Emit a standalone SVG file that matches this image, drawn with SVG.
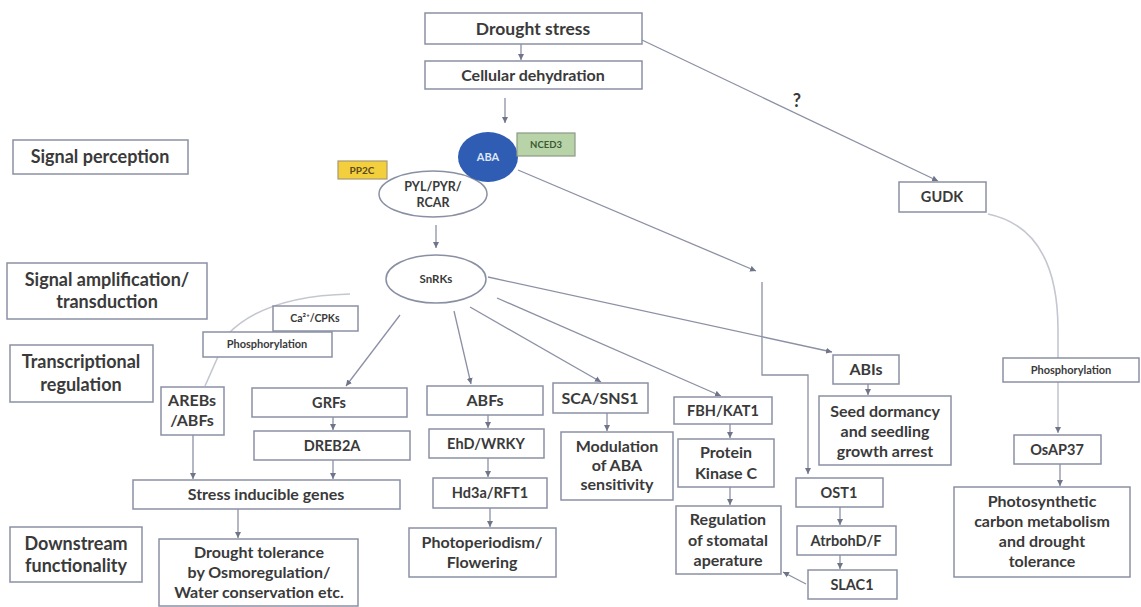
<svg xmlns="http://www.w3.org/2000/svg" width="1141" height="607" viewBox="0 0 1141 607">
<defs>
<marker id="ah" markerUnits="userSpaceOnUse" markerWidth="7" markerHeight="7" refX="6" refY="3.5" orient="auto">
<path d="M0,0.5 L6,3.5 L0,6.5 z" fill="#6f7488"/>
</marker>
<style>
.box{fill:#ffffff;stroke:#8a90a4;stroke-width:1.5}
.t{font-family:Lato,"Liberation Sans",sans-serif;font-weight:bold;fill:#3a3a3a;text-anchor:middle}
.lg{font-size:18px}
.md{font-size:16px}
.sm{font-size:14.5px}
.xs{font-size:11px}
.c{fill:none;stroke:#8c90a4;stroke-width:1.3}
.cl{fill:none;stroke:#c4c7d0;stroke-width:1.6}
.a{marker-end:url(#ah)}
</style>
</defs>
<rect width="1141" height="607" fill="#ffffff"/>

<g id="connectors">
<path class="c a" d="M521 44 L521 60"/>
<path class="c a" d="M505 98 L505 123"/>
<path class="c a" d="M436 225 L436 248"/>
<path class="c a" d="M518 170 L756 271"/>
<path class="c a" d="M762 282 L762 375 L808 375 L808 474"/>
<path class="c a" d="M642 40 L938 181"/>
<path class="c a" d="M488 277 L832 352"/>
<path class="c a" d="M497 298 L721 396"/>
<path class="c a" d="M470 307 L601 382"/>
<path class="c a" d="M454 311 L471 384"/>
<path class="c a" d="M400 315 L346 386"/>
<path class="cl" d="M350 294 Q265 296 228 334 L205 386"/>
<path class="c a" d="M333 417 L333 430"/>
<path class="c a" d="M193 435 L193 479"/>
<path class="c a" d="M333 460 L333 479"/>
<path class="c a" d="M238 509 L238 538"/>
<path class="c a" d="M488 415 L488 428"/>
<path class="c a" d="M488 458 L488 477"/>
<path class="c a" d="M490 508 L490 527"/>
<path class="c a" d="M607 413 L607 431"/>
<path class="c a" d="M730 424 L730 438"/>
<path class="c a" d="M730 487 L730 505"/>
<path class="c a" d="M868 384 L868 395"/>
<path class="c a" d="M840 507 L840 525"/>
<path class="c a" d="M840 555 L840 569"/>
<path class="c a" d="M806 584 L783 572"/>
<path class="cl a" d="M988 214 C1040 225 1058 270 1058 330 L1058 433"/>
<path class="c a" d="M1060 464 L1060 486"/>
</g>

<g id="drought"><rect class="box" x="425" y="13" width="217" height="31"/><text class="t" style="font-size:17.5px" x="533" y="35">Drought stress</text></g>
<g id="cellular"><rect class="box" x="425" y="61" width="217" height="28"/><text class="t md" x="533" y="81">Cellular dehydration</text></g>
<text id="question" class="t" style="font-size:18px" x="797" y="107">?</text>

<g id="sig-perception"><rect class="box" x="13" y="140" width="175" height="34"/><text class="t lg" x="100" y="163">Signal perception</text></g>
<g id="sig-amp"><rect class="box" x="7" y="263" width="200" height="56"/><text class="t lg" x="107" y="286">Signal amplification/</text><text class="t lg" x="107" y="308">transduction</text></g>
<g id="transcr"><rect class="box" x="10" y="345" width="143" height="57"/><text class="t lg" x="81" y="368">Transcriptional</text><text class="t lg" x="81" y="391">regulation</text></g>
<g id="downstream"><rect class="box" x="10" y="527" width="132" height="55"/><text class="t lg" x="76" y="550">Downstream</text><text class="t lg" x="76" y="572">functionality</text></g>

<g id="pyl"><ellipse cx="433" cy="194" rx="54" ry="23" fill="#ffffff" stroke="#8a90a4" stroke-width="1.5"/><text class="t" style="font-size:12.5px" x="433" y="191">PYL/PYR/</text><text class="t" style="font-size:12.5px" x="433" y="207">RCAR</text></g>
<g id="aba"><ellipse cx="488" cy="157" rx="30" ry="25" fill="#2e5db3"/><text class="t" style="font-size:11px;fill:#dfe6f5" x="488" y="161">ABA</text></g>
<g id="nced3"><rect x="517" y="133" width="58" height="23" fill="#b7d3a7" stroke="#8c9a88" stroke-width="1.2"/><text class="t" style="font-size:9.5px;fill:#3c5a34" x="546" y="148">NCED3</text></g>
<g id="pp2c"><rect x="338" y="161" width="49" height="18" fill="#f3cf3e" stroke="#a89a70" stroke-width="1.2"/><text class="t" style="font-size:10px;fill:#5a4a20" x="362" y="174">PP2C</text></g>
<g id="snrks"><ellipse cx="436" cy="279" rx="50" ry="24" fill="#ffffff" stroke="#8a90a4" stroke-width="1.5"/><text class="t" style="font-size:11.5px" x="436" y="283">SnRKs</text></g>

<g id="ca"><rect class="box" x="273" y="306" width="85" height="25"/><text class="t" style="font-size:10.5px" x="315" y="322">Ca²⁺/CPKs</text></g>
<g id="phos-left"><rect class="box" x="203" y="332" width="129" height="25"/><text class="t xs" x="267" y="348">Phosphorylation</text></g>

<g id="arebs"><rect class="box" x="161" y="387" width="63" height="48"/><text class="t md" x="192" y="406">AREBs</text><text class="t md" x="192" y="426">/ABFs</text></g>
<g id="grfs"><rect class="box" x="252" y="388" width="155" height="29"/><text class="t sm" x="329" y="408">GRFs</text></g>
<g id="dreb2a"><rect class="box" x="254" y="431" width="156" height="29"/><text class="t sm" x="332" y="451">DREB2A</text></g>
<g id="stress-genes"><rect class="box" x="133" y="480" width="267" height="29"/><text class="t md" x="266" y="500">Stress inducible genes</text></g>
<g id="drought-tol"><rect class="box" x="159" y="539" width="199" height="67"/><text class="t md" x="259" y="558">Drought tolerance</text><text class="t md" x="259" y="578">by Osmoregulation/</text><text class="t md" x="259" y="598">Water conservation etc.</text></g>

<g id="abfs"><rect class="box" x="427" y="386" width="116" height="29"/><text class="t md" x="485" y="406">ABFs</text></g>
<g id="ehd"><rect class="box" x="429" y="429" width="115" height="29"/><text class="t sm" x="486" y="449">EhD/WRKY</text></g>
<g id="hd3a"><rect class="box" x="433" y="478" width="114" height="30"/><text class="t sm" x="490" y="498">Hd3a/RFT1</text></g>
<g id="photoperiod"><rect class="box" x="409" y="528" width="147" height="49"/><text class="t md" x="482" y="548">Photoperiodism/</text><text class="t md" x="482" y="568">Flowering</text></g>

<g id="sca"><rect class="box" x="553" y="383" width="95" height="30"/><text class="t md" x="600" y="404">SCA/SNS1</text></g>
<g id="modulation"><rect class="box" x="561" y="432" width="112" height="68"/><text class="t md" x="617" y="452">Modulation</text><text class="t md" x="617" y="471">of ABA</text><text class="t md" x="617" y="490">sensitivity</text></g>

<g id="fbh"><rect class="box" x="674" y="397" width="98" height="27"/><text class="t sm" x="723" y="416">FBH/KAT1</text></g>
<g id="pkc"><rect class="box" x="678" y="439" width="96" height="48"/><text class="t md" x="726" y="458">Protein</text><text class="t md" x="726" y="479">Kinase C</text></g>
<g id="stomatal"><rect class="box" x="676" y="506" width="105" height="68"/><text class="t md" x="728" y="525">Regulation</text><text class="t md" x="728" y="546">of stomatal</text><text class="t md" x="728" y="566">aperature</text></g>

<g id="abis"><rect class="box" x="833" y="355" width="66" height="29"/><text class="t md" x="866" y="375">ABIs</text></g>
<g id="seed"><rect class="box" x="819" y="396" width="132" height="69"/><text class="t md" x="885" y="417">Seed dormancy</text><text class="t md" x="885" y="437">and seedling</text><text class="t md" x="885" y="457">growth arrest</text></g>
<g id="ost1"><rect class="box" x="796" y="478" width="87" height="29"/><text class="t sm" x="839" y="498">OST1</text></g>
<g id="atrboh"><rect class="box" x="797" y="526" width="99" height="29"/><text class="t sm" x="846" y="546">AtrbohD/F</text></g>
<g id="slac1"><rect class="box" x="808" y="570" width="89" height="29"/><text class="t sm" x="852" y="590">SLAC1</text></g>

<g id="gudk"><rect class="box" x="899" y="182" width="87" height="30"/><text class="t sm" x="942" y="202">GUDK</text></g>
<g id="phos-right"><rect class="box" x="1003" y="358" width="136" height="24"/><text class="t xs" x="1071" y="374">Phosphorylation</text></g>
<g id="osap37"><rect class="box" x="1014" y="435" width="87" height="29"/><text class="t sm" x="1057" y="455">OsAP37</text></g>
<g id="photosyn"><rect class="box" x="954" y="487" width="176" height="90"/><text class="t md" x="1042" y="507">Photosynthetic</text><text class="t md" x="1042" y="527">carbon metabolism</text><text class="t md" x="1042" y="547">and drought</text><text class="t md" x="1042" y="567">tolerance</text></g>
</svg>
